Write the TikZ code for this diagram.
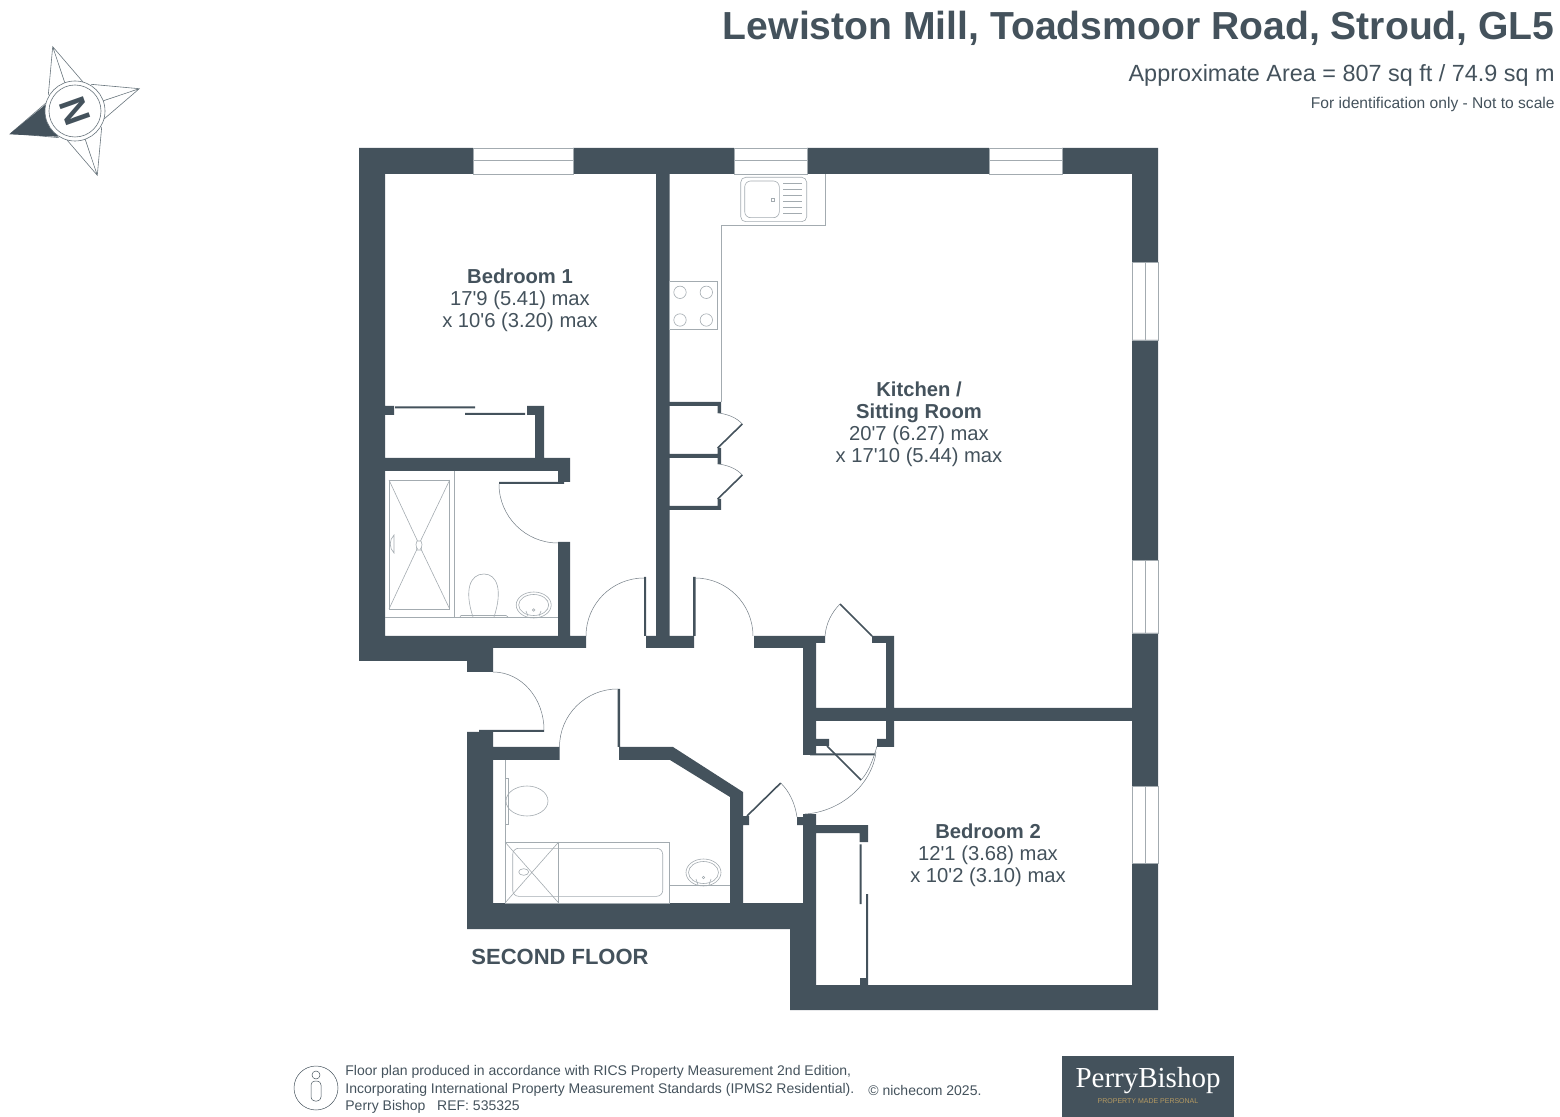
\documentclass[tikz,border=0pt]{standalone}
\usepackage{fontspec}
\usepackage{tikz}
\setmainfont{Liberation Sans}
\newfontfamily\logofont{Liberation Serif}
\definecolor{slate}{HTML}{44525C}
\definecolor{fixline}{HTML}{A3ABB0}
\definecolor{logogold}{HTML}{B59A62}
\newcommand{\pxfont}[2]{\fontsize{#1}{#2}\selectfont}
\newcommand{\ft}{\textquotesingle}

\begin{document}
\begin{tikzpicture}[x = 0.5pt, y = -0.5pt,
        every node/.style = {inner sep = 0pt, text = slate},
        wall/.style = {fill = slate},
        fixture/.style = {draw = fixline, line width = 0.3pt},
        swing/.style = {draw = slate!75, line width = 0.25pt},
        leaf/.style = {draw = slate, line width = 0.8pt},
        roomlabel/.style = {align = center, font = \pxfont{10.1}{11.05}}]
    \useasboundingbox (0,0) rectangle (1560,1117);

    % walls
    \fill[wall]
        (359,148) rectangle (473,174)
        (573,148) rectangle (734,174)
        (807,148) rectangle (989,174)
        (1062,148) rectangle (1158,174)
        (359,148) rectangle (385,661)
        (1132,148) rectangle (1158,262)
        (1132,340) rectangle (1158,560)
        (1132,633) rectangle (1158,786)
        (1132,863) rectangle (1158,1010)
        (790,985) rectangle (1158,1010)
        (359,648) rectangle (493,661)
        (467,648) rectangle (493,672)
        (385,636) rectangle (586,648)
        (558,542) rectangle (570,648)
        (385,458) rectangle (570,471)
        (558,458) rectangle (570,482)
        (499,482) rectangle (564,484)
        (535,406) rectangle (544,458)
        (527,406) rectangle (544,415)
        (385,406) rectangle (394,415)
        (395,406.5) rectangle (475,408.5)
        (465,413) rectangle (525,415)
        (656,174) rectangle (669.5,648)
        (646,636) rectangle (694,648)
        (644,577) rectangle (646,636)
        (693,577) rectangle (695.5,636)
        (754,636) rectangle (816,648)
        (816,636) rectangle (825,643)
        (803,636) rectangle (816,755)
        (872,636) rectangle (894,643)
        (886,636) rectangle (894,747)
        (816,708) rectangle (1132,721)
        (877,739) rectangle (894,747)
        (816,739) rectangle (829,746)
        (810,753.5) rectangle (875,755.5)
        (479,730) rectangle (544,732)
        (467,732) rectangle (493,929)
        (493,747) rectangle (559.5,760)
        (617.7,689) rectangle (620,747)
        (467,903) rectangle (816,929)
        (790,903) rectangle (816,1010)
        (803,814) rectangle (816,903)
        (797,817) rectangle (803,825)
        (816,825) rectangle (868,833)
        (859.5,825) rectangle (868,842)
        (859.7,844.3) rectangle (861.7,904)
        (866,894) rectangle (868,978)
        (860,978) rectangle (868,985)
        (669.5,402) rectangle (721,406)
        (717.5,402) rectangle (721,413)
        (669.5,454) rectangle (721,458)
        (717.5,448) rectangle (721,464)
        (669.5,506) rectangle (721,510)
        (717.5,499) rectangle (721,510)
        (619,747) -- (673,747) -- (743,792) -- (743,816) -- (749,816) -- (749,825) -- (743,825)
            -- (743,903) -- (730,903) -- (730,797) -- (670,760) -- (619,760) -- cycle;

    % door leaves and swings
    \draw[leaf] (717.7,448) -- (742.3,424);
    \draw[leaf] (717.7,499) -- (742.3,475);
    \draw[leaf] (872,636) -- (840,604);
    \draw[leaf] (827,746) -- (861,780);
    \draw[leaf] (747,816) -- (780.7,783);
    \draw[swing] (586,636) arc[start angle = 180, end angle = 270, radius = 58];
    \draw[swing] (695,578) arc[start angle = 270, end angle = 360, radius = 58];
    \draw[swing] (493,672) arc[start angle = 270, end angle = 360, x radius = 51, y radius = 58];
    \draw[swing] (559.5,747) arc[start angle = 180, end angle = 270, radius = 58];
    \draw[swing] (499,484) arc[start angle = 180, end angle = 90, radius = 59];
    \draw[swing] (717.7,413) .. controls (728,414) and (737,418) .. (742.3,424);
    \draw[swing] (717.7,464) .. controls (728,465) and (737,469) .. (742.3,475);
    \draw[swing] (825,636) .. controls (826,623) and (832,612) .. (840,604);
    \draw[swing] (877,746) .. controls (875,753) and (870,771) .. (861,780);
    \draw[swing] (876,752) .. controls (872,785) and (840,812) .. (805,814);
    \draw[swing] (780.7,783) .. controls (789,791) and (795,803) .. (797,817);

    % windows
    \draw[fixture] (473,148) rectangle (573,174) (473,160.5) -- (573,160.5);
    \draw[fixture] (734,148) rectangle (807,174) (734,160.5) -- (807,160.5);
    \draw[fixture] (989,148) rectangle (1062,174) (989,160.5) -- (1062,160.5);
    \draw[fixture] (1132,262) rectangle (1158,340) (1145,262) -- (1145,340);
    \draw[fixture] (1132,560) rectangle (1158,633) (1145,560) -- (1145,633);
    \draw[fixture] (1132,786) rectangle (1158,863) (1145,786) -- (1145,863);

    % kitchen
    \draw[fixture] (721,402) -- (721,225) -- (825,225) -- (825,174);
    \draw[fixture, rounded corners = 2.5pt] (740.7,177.3) rectangle (806.7,221.7);
    \draw[fixture, rounded corners = 3pt] (744.7,181) rectangle (779.3,217.7);
    \foreach \y in {183.3,189.3,195.3,201.7,207.7,213.7} {
        \draw[fixture, line width = 0.5pt] (783.3,\y) -- (801.7,\y);
    }
    \draw[fixture] (771.5,198) rectangle (774.5,201);
    \draw[fixture] (669.5,281) rectangle (717.7,329.3);
    \foreach \x in {680,706.3} {
        \foreach \y in {292.3,320} {
            \draw[fixture] (\x,\y) circle[radius = 6.2];
        }
    }

    % shower room
    \draw[fixture] (454,471) -- (454,617);
    \draw[fixture] (385,617) -- (558,617);
    \draw[fixture] (389,480) rectangle (449.7,609);
    \draw[fixture] (389,480) -- (417.5,541) (449.7,480) -- (420.5,541) (389,609) -- (417.5,548) (449.7,609) -- (420.5,548);
    \draw[fixture] (417,541) -- (421,541) -- (422,544.5) -- (421,550) -- (417,550) -- (416,544.5) -- cycle;
    \draw[fixture] (394,535) .. controls (389,540) and (389,548) .. (394,553) -- cycle;
    \draw[fixture] (473,617) .. controls (464,590) and (470,574) .. (484,574) .. controls (497,574) and (503,590) .. (494,617);
    \draw[fixture] (460,617) -- (461,615.5) -- (506,615.5) -- (508,617);
    \draw[fixture] (533.7,605) ellipse[x radius = 17.5, y radius = 13];
    \draw[fixture] (533.7,605) ellipse[x radius = 15, y radius = 10.5];
    \draw[fixture] (533.7,610) circle[radius = 1.3];
    \draw[fixture] (526,611) -- (528,616) (541,611) -- (539,616);

    % bathroom
    \draw[fixture] (505,760) -- (505,903);
    \draw[fixture] (505,778) rectangle (508,824);
    \draw[fixture] (527,801) ellipse[x radius = 21, y radius = 15];
    \draw[fixture] (505,842) rectangle (669.3,903);
    \draw[fixture] (558.7,842) -- (558.7,903);
    \draw[fixture, rounded corners = 3pt] (512.7,848.3) rectangle (662.7,896.3);
    \draw[fixture] (505,842) -- (558.7,903) (558.7,842) -- (505,903);
    \draw[fixture] (523.7,872) ellipse[x radius = 5, y radius = 3.3];
    \draw[fixture] (669.3,885.3) -- (730,885.3);
    \draw[fixture] (703.5,872.5) ellipse[x radius = 17.5, y radius = 13.5];
    \draw[fixture] (703.5,872.5) ellipse[x radius = 15, y radius = 11];
    \draw[fixture] (703.5,877.5) circle[radius = 1.3];
    \draw[fixture] (696,879) -- (698,885) (711,879) -- (709,885);

    % compass
    \foreach \a in {0,90,180,270} {
        \begin{scope}[rotate around = {\a:(75,111)}]
            \draw[fixture, draw = slate!80] (48.3,95) -- (52.7,46.7) -- (85,84.3) (52.7,46.7) -- (65,83.3);
        \end{scope}
    }
    \fill[wall] (9.3,134.3) -- (45,105) -- (75,111) -- (58,136.7) -- cycle;
    \filldraw[fixture, draw = slate!80, fill = white] (75,111) circle[radius = 30];
    \draw[fixture, draw = slate!80] (75,111) circle[radius = 26];
    \node[rotate = 109.5, font = \pxfont{18.5}{18}\bfseries] (compassN) at (75,111) {N};

    % footer icon and logo
    \draw[swing, draw = slate] (316,1088) circle[radius = 22];
    \draw[swing, draw = slate] (316,1075) circle[radius = 4];
    \draw[swing, draw = slate, rounded corners = 2pt] (311,1081) rectangle (321,1101);
    \fill[wall] (1062,1056) rectangle (1234,1117);

    \node[anchor = east, font = \pxfont{19.56}{20}\bfseries] (titleLabel) at (1555,28) {Lewiston Mill, Toadsmoor Road, Stroud, GL5};
    \node[anchor = east, font = \pxfont{11.7}{12}] (areaLabel) at (1555,75) {Approximate Area = 807 sq ft / 74.9 sq m};
    \node[anchor = east, font = \pxfont{7.8}{8}] (noteLabel) at (1555,104) {For identification only - Not to scale};
    \node[roomlabel] (bedroomOne) at (520,300.5) {\textbf{Bedroom 1}\\17\ft9 (5.41) max\\x 10\ft6 (3.20) max};
    \node[roomlabel] (kitchenLabel) at (919,424.5) {\textbf{Kitchen /}\\\textbf{Sitting Room}\\20\ft7 (6.27) max\\x 17\ft10 (5.44) max};
    \node[roomlabel] (bedroomTwo) at (988,855) {\textbf{Bedroom 2}\\12\ft1 (3.68) max\\x 10\ft2 (3.10) max};
    \node[anchor = west, font = \pxfont{11}{12}\bfseries] (floorLabel) at (471,957) {SECOND FLOOR};
    \node[anchor = north west, align = left, font = \pxfont{7}{8.75}] (creditLabel) at (345,1065) {Floor plan produced in accordance with RICS Property Measurement 2nd Edition,\\Incorporating International Property Measurement Standards (IPMS2 Residential).\\Perry Bishop\ \ \ REF: 535325};
    \node[anchor = west, font = \pxfont{7}{8}] (copyLabel) at (868,1090) {\textcopyright\ nichecom 2025.};
    \node[text = white, font = \pxfont{14.5}{14}\logofont] (logoName) at (1148,1081) {PerryBishop};
    \node[text = logogold, font = \pxfont{3.5}{3}] (logoTag) at (1148,1101) {PROPERTY MADE PERSONAL};
\end{tikzpicture}
\end{document}
